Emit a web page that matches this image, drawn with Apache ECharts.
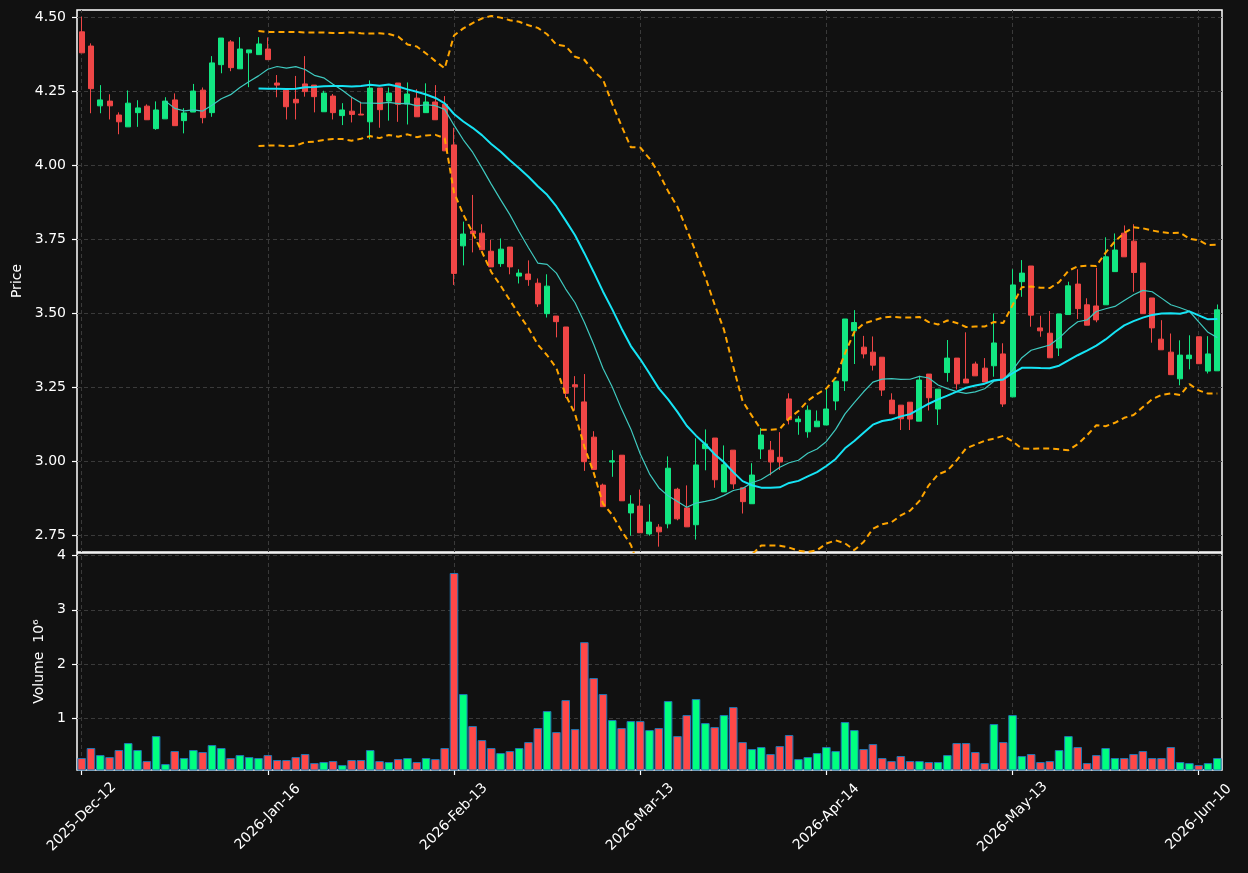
<!DOCTYPE html>
<html>
<head>
<meta charset="utf-8">
<title>K线 + 成交量</title>
<script src="https://cdn.jsdelivr.net/npm/echarts@6/dist/echarts.min.js"></script>
<style>
    html, body { margin: 0; padding: 0; background: #111111; }
    #chart { width: 1248px; height: 873px; }
</style>
</head>
<body>
<div id="chart"></div>
<script>
// 每根K线：开盘 / 收盘 / 最低 / 最高
const openP = [4.451,4.403,4.201,4.217,4.170,4.130,4.178,4.200,4.124,4.157,
    4.221,4.151,4.180,4.254,4.178,4.340,4.417,4.326,4.380,4.374,
    4.393,4.278,4.254,4.223,4.275,4.271,4.181,4.234,4.168,4.183,
    4.173,4.147,4.261,4.217,4.278,4.207,4.227,4.178,4.214,4.206,
    4.069,3.728,3.778,3.771,3.710,3.668,3.724,3.626,3.633,3.602,
    3.499,3.491,3.454,3.259,3.201,3.082,2.920,2.998,3.021,2.826,
    2.849,2.755,2.778,2.789,2.906,2.843,2.786,3.043,3.079,2.897,
    3.038,2.911,2.857,3.042,3.038,3.014,3.211,3.134,3.100,3.117,
    3.123,3.204,3.272,3.441,3.386,3.369,3.352,3.207,3.190,3.200,
    3.136,3.295,3.177,3.300,3.349,3.278,3.329,3.315,3.323,3.363,
    3.218,3.607,3.660,3.451,3.433,3.383,3.496,3.599,3.529,3.525,
    3.529,3.641,3.771,3.744,3.670,3.552,3.413,3.369,3.279,3.347,
    3.421,3.305,3.306];
const closeP = [4.380,4.259,4.221,4.201,4.147,4.210,4.194,4.154,4.187,4.217,
    4.134,4.177,4.251,4.161,4.346,4.430,4.330,4.393,4.390,4.410,
    4.357,4.271,4.198,4.211,4.249,4.232,4.244,4.178,4.187,4.172,
    4.170,4.261,4.188,4.244,4.206,4.241,4.164,4.214,4.154,4.049,
    3.635,3.768,3.769,3.715,3.657,3.717,3.657,3.636,3.614,3.532,
    3.592,3.472,3.230,3.252,2.999,2.973,2.847,3.002,2.867,2.856,
    2.759,2.795,2.762,2.977,2.806,2.779,2.988,3.059,2.938,2.989,
    2.924,2.864,2.954,3.089,2.998,2.998,3.141,3.143,3.173,3.136,
    3.177,3.271,3.481,3.469,3.363,3.325,3.241,3.161,3.144,3.143,
    3.275,3.215,3.244,3.349,3.262,3.265,3.289,3.268,3.400,3.194,
    3.596,3.636,3.494,3.441,3.350,3.498,3.593,3.516,3.460,3.478,
    3.691,3.714,3.691,3.638,3.499,3.451,3.377,3.293,3.359,3.359,
    3.330,3.363,3.512];
const lowP = [4.380,4.176,4.176,4.155,4.105,4.130,4.130,4.154,4.120,4.157,
    4.134,4.108,4.180,4.142,4.164,4.311,4.318,4.326,4.264,4.374,
    4.357,4.230,4.155,4.155,4.232,4.179,4.181,4.155,4.136,4.145,
    4.170,4.088,4.127,4.151,4.147,4.138,4.164,4.178,4.154,4.049,
    3.596,3.662,3.706,3.715,3.657,3.657,3.632,3.601,3.593,3.522,
    3.486,3.419,3.214,3.173,2.968,2.973,2.847,2.948,2.867,2.749,
    2.759,2.749,2.712,2.774,2.801,2.779,2.736,2.970,2.911,2.897,
    2.907,2.824,2.857,3.008,2.953,2.971,3.125,3.090,3.080,3.117,
    3.123,3.173,3.238,3.329,3.348,3.307,3.221,3.161,3.106,3.106,
    3.136,3.172,3.123,3.269,3.243,3.265,3.289,3.268,3.286,3.184,
    3.218,3.556,3.455,3.421,3.350,3.356,3.496,3.481,3.460,3.470,
    3.529,3.641,3.691,3.573,3.499,3.401,3.377,3.293,3.257,3.311,
    3.330,3.297,3.306];
const highP = [4.502,4.412,4.271,4.240,4.179,4.253,4.220,4.206,4.216,4.230,
    4.243,4.193,4.275,4.263,4.369,4.430,4.423,4.433,4.390,4.433,
    4.432,4.305,4.254,4.302,4.369,4.271,4.252,4.241,4.210,4.230,
    4.215,4.287,4.261,4.263,4.278,4.280,4.257,4.277,4.271,4.234,
    4.127,3.810,3.900,3.801,3.748,3.753,3.724,3.649,3.679,3.618,
    3.632,3.491,3.454,3.288,3.295,3.102,2.925,3.038,3.021,2.886,
    2.905,2.855,2.788,3.017,2.911,2.919,3.078,3.108,3.079,3.054,
    3.038,2.911,2.994,3.113,3.069,3.099,3.230,3.153,3.189,3.172,
    3.251,3.271,3.481,3.511,3.424,3.422,3.352,3.230,3.190,3.200,
    3.289,3.295,3.244,3.410,3.349,3.436,3.337,3.349,3.500,3.399,
    3.649,3.680,3.660,3.492,3.508,3.498,3.607,3.649,3.551,3.654,
    3.757,3.770,3.797,3.801,3.670,3.552,3.477,3.432,3.409,3.426,
    3.421,3.423,3.530];
// 成交量（单位 10^6）
const volume = [0.261,0.446,0.316,0.279,0.409,0.538,0.409,0.205,0.667,0.150,
    0.390,0.261,0.409,0.372,0.501,0.446,0.261,0.316,0.279,0.261,
    0.316,0.224,0.224,0.279,0.335,0.168,0.187,0.205,0.131,0.224,
    0.224,0.409,0.205,0.187,0.242,0.261,0.187,0.261,0.242,0.446,
    3.680,1.443,0.852,0.593,0.446,0.353,0.390,0.446,0.556,0.815,
    1.129,0.741,1.332,0.796,2.403,1.739,1.443,0.963,0.815,0.944,
    0.944,0.778,0.815,1.314,0.667,1.055,1.351,0.907,0.833,1.055,
    1.203,0.556,0.427,0.464,0.335,0.482,0.686,0.242,0.279,0.353,
    0.464,0.390,0.926,0.778,0.427,0.519,0.261,0.205,0.298,0.205,
    0.205,0.187,0.187,0.316,0.538,0.538,0.372,0.168,0.889,0.556,
    1.055,0.298,0.335,0.187,0.205,0.409,0.667,0.464,0.168,0.316,
    0.446,0.261,0.261,0.335,0.390,0.261,0.261,0.464,0.187,0.168,
    0.131,0.168,0.261];
// 横轴刻度：每 20 根K线一个日期标签
const tickIndex = [0, 20, 40, 60, 80, 100, 120];
const tickLabels = ['2025-Dec-12','2026-Jan-16','2026-Feb-13','2026-Mar-13','2026-Apr-14','2026-May-13','2026-Jun-10'];
const priceTicks = [2.75, 3.00, 3.25, 3.50, 3.75, 4.00, 4.25, 4.50];
const volumeTicks = [1, 2, 3, 4];

(function () {
    const UP = '#12e682', DOWN = '#ef4646';
    const VUP = '#00ff80', VDOWN = '#ff4848';
    const GRID_LINE = { type: [4, 3], color: '#3a3a3a', width: 1 };
    const FONT = 'DejaVu Sans';
    const FRAME = '#ffffff';

    const cats = closeP.map((_, i) => String(i));
    const candles = closeP.map((c, i) => [openP[i], c, lowP[i], highP[i]]);
    const volBars = volume.map((v, i) => ({
        value: v,
        itemStyle: { color: closeP[i] >= openP[i] ? VUP : VDOWN }
    }));

    // 均线与布林带：由收盘价滚动计算（10 日 / 20 日，2 倍标准差）
    function rolling(n, fn) {
        return closeP.map((_, i) => {
            if (i < n - 1) return '-';
            return fn(closeP.slice(i - n + 1, i + 1));
        });
    }
    const mean = a => a.reduce((s, v) => s + v, 0) / a.length;
    const sd = a => { const m = mean(a); return Math.sqrt(a.reduce((s, v) => s + (v - m) * (v - m), 0) / a.length); };
    const ma10 = rolling(10, mean);
    const ma20 = rolling(20, mean);
    const bbUp = rolling(20, a => mean(a) + 2 * sd(a));
    const bbLow = rolling(20, a => mean(a) - 2 * sd(a));

    const isTick = idx => idx % 20 === 0;
    // 竖向网格线（放在刻度位置，即K线中心）
    const vLines = {
        silent: true, z: 1, symbol: ['none', 'none'],
        label: { show: false }, emphasis: { disabled: true },
        lineStyle: GRID_LINE,
        data: tickIndex.map(i => ({ xAxis: i }))
    };
    const tickStyle = { color: FRAME, width: 1.2 };

    const chart = echarts.init(document.getElementById('chart'));
    chart.setOption({
        backgroundColor: '#111111',
        animation: false,
        textStyle: { fontFamily: FONT },
        grid: [
            { left: 77, right: 26, top: 10, height: 542, show: true, borderColor: FRAME, borderWidth: 1.5, backgroundColor: 'transparent' },
            { left: 77, right: 26, top: 553, height: 217, show: true, borderColor: FRAME, borderWidth: 1.5, backgroundColor: 'transparent' }
        ],
        xAxis: [
            { type: 'category', gridIndex: 0, data: cats, boundaryGap: true,
              axisLine: { show: false }, axisTick: { show: false }, axisLabel: { show: false }, splitLine: { show: false } },
            { type: 'category', gridIndex: 1, data: cats, boundaryGap: true,
              axisLine: { show: false }, splitLine: { show: false },
              axisTick: { show: true, interval: isTick, alignWithLabel: true, length: 5, lineStyle: tickStyle },
              axisLabel: { interval: isTick, rotate: 45, margin: 47, align: 'center', verticalAlign: 'middle',
                  color: '#ffffff', fontSize: 14, fontFamily: FONT,
                  formatter: (v, idx) => tickLabels[tickIndex.indexOf(idx)] || '' } }
        ],
        yAxis: [
            { type: 'value', gridIndex: 0, min: 2.694, max: 4.5247,
              name: 'Price', nameLocation: 'middle', nameGap: 53,
              nameTextStyle: { color: '#ffffff', fontSize: 14, fontFamily: FONT },
              axisLine: { show: false },
              axisTick: { show: true, customValues: priceTicks, length: 5, lineStyle: tickStyle },
              axisLabel: { customValues: priceTicks, color: '#ffffff', fontSize: 14, margin: 11, fontFamily: FONT, formatter: v => v.toFixed(2) },
              splitLine: { show: true, lineStyle: GRID_LINE } },
            { type: 'value', gridIndex: 1, min: 0.04, max: 4.05,
              name: 'Volume  10\u2076', nameLocation: 'middle', nameGap: 30,
              nameTextStyle: { color: '#ffffff', fontSize: 14, fontFamily: FONT },
              axisLine: { show: false },
              axisTick: { show: true, customValues: volumeTicks, length: 5, lineStyle: tickStyle },
              axisLabel: { customValues: volumeTicks, color: '#ffffff', fontSize: 14, margin: 11, fontFamily: FONT },
              splitLine: { show: true, lineStyle: GRID_LINE } }
        ],
        series: [
            { name: 'K', type: 'candlestick', xAxisIndex: 0, yAxisIndex: 0, data: candles, barWidth: 5.5,
              itemStyle: { color: UP, color0: DOWN, borderColor: UP, borderColor0: DOWN, borderWidth: 1 },
              markLine: vLines },
            { name: 'BB Upper', type: 'line', xAxisIndex: 0, yAxisIndex: 0, data: bbUp, showSymbol: false, z: 3,
              lineStyle: { color: '#ffa500', width: 2, type: [6, 4] } },
            { name: 'BB Lower', type: 'line', xAxisIndex: 0, yAxisIndex: 0, data: bbLow, showSymbol: false, z: 3,
              lineStyle: { color: '#ffa500', width: 2, type: [6, 4] } },
            { name: 'MA10', type: 'line', xAxisIndex: 0, yAxisIndex: 0, data: ma10, showSymbol: false, z: 3,
              lineStyle: { color: '#3fc9bf', width: 1.2 } },
            { name: 'MA20', type: 'line', xAxisIndex: 0, yAxisIndex: 0, data: ma20, showSymbol: false, z: 4,
              lineStyle: { color: '#16e4f5', width: 2 } },
            { name: 'Volume', type: 'bar', xAxisIndex: 1, yAxisIndex: 1, data: volBars, barWidth: '92%',
              itemStyle: { borderColor: '#1f77b4', borderWidth: 1 },
              markLine: vLines }
        ]
    });
})();
</script>
</body>
</html>
